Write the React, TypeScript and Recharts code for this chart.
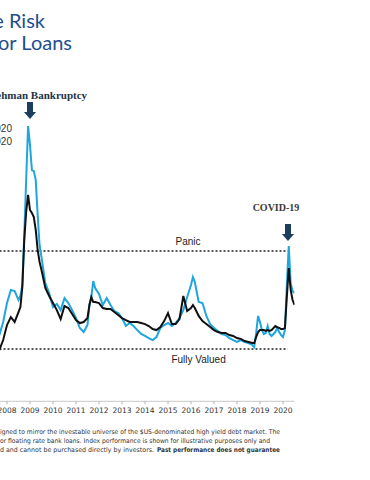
import { LineChart, Line, XAxis, YAxis, ReferenceLine, ReferenceDot } from "recharts";

// month (start of month), high yield spread (bps), loan spread (bps)
const DATES = [
  "2007-07", "2007-09", "2007-11", "2008-01", "2008-03", "2008-05", "2008-07", "2008-08", "2008-09", "2008-10",
  "2008-11", "2008-12", "2009-01", "2009-02", "2009-03", "2009-04", "2009-05", "2009-06", "2009-07", "2009-09",
  "2009-11", "2010-01", "2010-03", "2010-05", "2010-07", "2010-09", "2010-11", "2011-01", "2011-03", "2011-05",
  "2011-07", "2011-08", "2011-09", "2011-10", "2011-11", "2012-01", "2012-03", "2012-05", "2012-07", "2012-09",
  "2012-11", "2013-01", "2013-03", "2013-05", "2013-07", "2013-09", "2013-11", "2014-01", "2014-03", "2014-05",
  "2014-07", "2014-09", "2014-11", "2015-01", "2015-03", "2015-05", "2015-07", "2015-09", "2015-11", "2016-01",
  "2016-02", "2016-03", "2016-05", "2016-07", "2016-09", "2016-11", "2017-01", "2017-03", "2017-05", "2017-07",
  "2017-09", "2017-11", "2018-01", "2018-03", "2018-05", "2018-07", "2018-09", "2018-10", "2018-11", "2018-12",
  "2019-01", "2019-02", "2019-03", "2019-04", "2019-05", "2019-06", "2019-07", "2019-09", "2019-10", "2019-11",
  "2019-12", "2020-01", "2020-02", "2020-03", "2020-04", "2020-05", "2020-06", "2020-07",
];

const HIGH_YIELD = [
  334, 357, 457, 602, 702, 694, 625, 656, 740, 1122,
  1543, 1957, 1811, 1620, 1612, 1543, 1275, 1046, 954, 755,
  679, 571, 594, 548, 640, 602, 548, 487, 411, 380,
  434, 587, 648, 770, 717, 671, 587, 640, 587, 541,
  525, 487, 426, 449, 426, 395, 365, 350, 334, 319,
  342, 411, 434, 449, 426, 449, 487, 548, 648, 740,
  801, 763, 610, 602, 503, 441, 411, 388, 365, 357,
  334, 319, 304, 319, 304, 296, 281, 265, 373, 503,
  457, 395, 365, 373, 426, 365, 350, 380, 411, 380,
  357, 342, 395, 740, 1038, 755, 694, 679,
];

const LOANS = [
  227, 242, 319, 434, 495, 457, 533, 571, 725, 1084,
  1299, 1429, 1314, 1291, 1260, 1161, 1008, 916, 855, 717,
  656, 602, 548, 480, 579, 564, 518, 472, 449, 457,
  487, 587, 648, 610, 610, 602, 564, 556, 556, 533,
  510, 487, 472, 457, 457, 457, 449, 441, 426, 403,
  395, 418, 464, 525, 441, 441, 480, 656, 541, 564,
  587, 564, 503, 464, 441, 418, 395, 380, 373, 373,
  357, 350, 334, 327, 311, 304, 296, 296, 342, 380,
  395, 395, 395, 388, 395, 388, 395, 426, 418, 411,
  403, 403, 411, 648, 870, 702, 625, 587,
];

const YEAR_TICKS = [2008, 2009, 2010, 2011, 2012, 2013, 2014, 2015, 2016, 2017, 2018, 2019, 2020];

const PANIC = 1000;
const FULLY_VALUED = 250;

const toYear = (d: string) => {
  const [y, m] = d.split("-").map(Number);
  return y + (m - 1) / 12;
};

const data = DATES.map((d, i) => ({ t: toYear(d), hy: HIGH_YIELD[i], loans: LOANS[i] }));

const NAVY = "#1c3d5c";
const BLUE = "#1fa6de";

const Arrow = ({ cx, cy, label, dx, bold }: any) => (
  <g>
    <path
      d={`M${cx - 3} ${cy - 17} L${cx + 3} ${cy - 17} L${cx + 3} ${cy - 7} L${cx + 6} ${cy - 7} L${cx} ${cy} L${cx - 6} ${cy - 7} L${cx - 3} ${cy - 7} Z`}
      fill={NAVY}
    />
    <text x={cx + dx} y={cy - bold} textAnchor="middle" fontFamily="'Liberation Serif', serif" fontWeight="bold" fontSize={label === "COVID-19" ? 10 : 11} fill={label === "COVID-19" ? "#3a3a3a" : "#1f3347"}>
      {label}
    </text>
  </g>
);

export default function App() {
  return (
    <div style={{ position: "absolute", left: 0, top: 0, width: 370, height: 480, overflow: "hidden", background: "#fff" }}>
      <div style={{ position: "absolute", left: -40, top: 0 }}>
        <LineChart width={400} height={480} data={data} margin={{ top: 68.1, right: 65.5, bottom: 48.7, left: 35.5 }}>
          <XAxis
            dataKey="t"
            type="number"
            domain={[2007.5, 2020.5]}
            ticks={YEAR_TICKS}
            tickFormatter={(v) => String(v)}
            allowDataOverflow
            axisLine={{ stroke: "#c8c8c8" }}
            tickLine={{ stroke: "#b0b0b0" }}
            tickSize={3}
            tickMargin={3}
            tick={{ fontSize: 7.5, fill: "#333", fontFamily: "'DejaVu Sans', sans-serif" }}
            height={30}
          />
          <YAxis hide domain={[-150, 2400]} type="number" allowDataOverflow />
          <ReferenceLine segment={[{ x: 2007.5, y: PANIC }, { x: 2020.2, y: PANIC }]} stroke="#222" strokeWidth={1.5} strokeDasharray="2 2" />
          <ReferenceLine segment={[{ x: 2007.5, y: FULLY_VALUED }, { x: 2020.2, y: FULLY_VALUED }]} stroke="#222" strokeWidth={1.5} strokeDasharray="2 2" />
          <Line dataKey="hy" stroke={BLUE} strokeWidth={2} dot={false} isAnimationActive={false} type="linear" />
          <Line dataKey="loans" stroke="#111" strokeWidth={2} dot={false} isAnimationActive={false} type="linear" />
          <ReferenceDot
            x={2015.87}
            y={PANIC}
            r={0}
            shape={(p: any) => (
              <text x={p.cx} y={p.cy - 6} textAnchor="middle" fontFamily="'Liberation Sans', sans-serif" fontSize={10} fill="#222">
                Panic
              </text>
            )}
          />
          <ReferenceDot
            x={2016.33}
            y={FULLY_VALUED}
            r={0}
            shape={(p: any) => (
              <text x={p.cx} y={p.cy + 14} textAnchor="middle" fontFamily="'Liberation Sans', sans-serif" fontSize={10} fill="#222">
                Fully Valued
              </text>
            )}
          />
          <ReferenceDot x={2009.0} y={2010} r={0} shape={(p: any) => <Arrow cx={p.cx} cy={p.cy} label="Lehman Bankruptcy" dx={8} bold={20} />} />
          <ReferenceDot x={2020.217} y={1077} r={0} shape={(p: any) => <Arrow cx={p.cx} cy={p.cy} label="COVID-19" dx={-12} bold={30} />} />
        </LineChart>
      </div>
      <svg width={370} height={480} style={{ position: "absolute", left: 0, top: 0, pointerEvents: "none" }}>
        <g fontFamily="Lato, sans-serif" fontSize={20} fill="#1d4f8f">
          <text x={45} y={27.5} textAnchor="end">Comparing Relative Risk</text>
          <text x={72} y={50} textAnchor="end">High Yield Bonds and Senior Loans</text>
        </g>
        <g fontFamily="'Liberation Sans', sans-serif" fontSize={10} fill="#333">
          <text x={12} y={131.5} textAnchor="end">High Yield 6/30/2007 – 6/30/2020</text>
          <text x={12} y={144.5} textAnchor="end">Loans 6/30/2007 – 6/30/2020</text>
        </g>
        <g fontFamily="'DejaVu Sans', sans-serif" fontSize={6.5} fill="#333">
          <text x={0} y={433.5} textLength={280} lengthAdjust="spacingAndGlyphs">
            igned to mirror the investable universe of the $US-denominated high yield debt market. The
          </text>
          <text x={0} y={442.5} textLength={270} lengthAdjust="spacingAndGlyphs">
            or floating rate bank loans. Index performance is shown for illustrative purposes only and
          </text>
          <text x={0} y={451.5} textLength={154} lengthAdjust="spacingAndGlyphs">
            d and cannot be purchased directly by investors.
          </text>
          <text x={157} y={451.5} textLength={123} lengthAdjust="spacingAndGlyphs" fontWeight="bold">
            Past performance does not guarantee
          </text>
        </g>
      </svg>
    </div>
  );
}
